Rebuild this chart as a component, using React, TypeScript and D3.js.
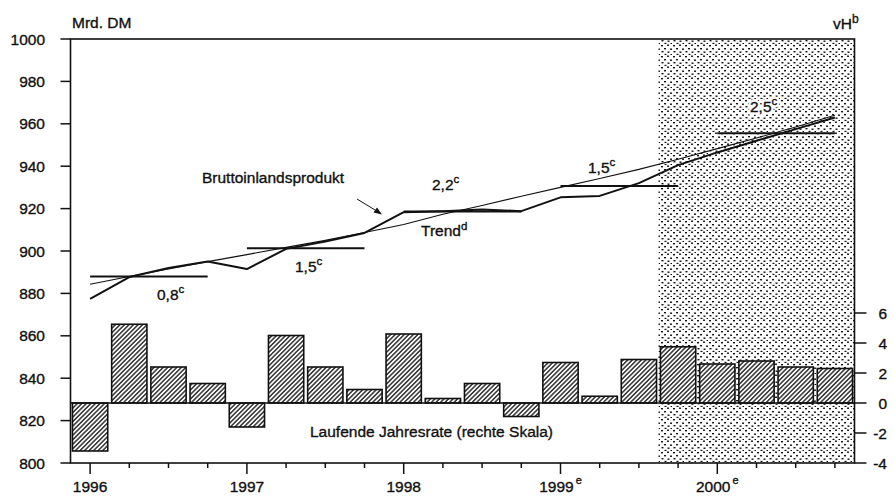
import * as d3 from "d3";
import { useEffect, useRef } from "react";

// quarterly data 1996Q1 .. 2000Q4
const quarters = [
  "1996Q1", "1996Q2", "1996Q3", "1996Q4",
  "1997Q1", "1997Q2", "1997Q3", "1997Q4",
  "1998Q1", "1998Q2", "1998Q3", "1998Q4",
  "1999Q1", "1999Q2", "1999Q3", "1999Q4",
  "2000Q1", "2000Q2", "2000Q3", "2000Q4",
];
const years = ["1996", "1997", "1998", "1999", "2000"];
const yearNotes = ["", "", "", "e", "e"];

// Bruttoinlandsprodukt, Mrd. DM
const bip = [
  877.4, 887.7, 892, 895,
  891.5, 901, 904.5, 908.5,
  918.3, 918.8, 919.6, 918.8,
  925.3, 926, 932, 940.5,
  946.5, 952, 957.5, 963,
];
// Trend
const trend = [
  884.3, 888, 891.5, 895,
  898.3, 901.7, 905, 908.7,
  912.5, 917.3, 921.5, 925.8,
  930, 934.2, 938.5, 943.3,
  948.3, 953.3, 958.5, 964,
];
// Jahresdurchschnitt
const annualAvg = [888, 901.3, 918.6, 930.7, 955.5];
const annualGrowth = ["0,8", "1,5", "2,2", "1,5", "2,5"];
// Laufende Jahresrate, vH
const rates = [
  -3.2, 5.25, 2.4, 1.3,
  -1.6, 4.5, 2.4, 0.9,
  4.6, 0.3, 1.3, -0.9,
  2.7, 0.45, 2.9, 3.75,
  2.6, 2.8, 2.4, 2.3,
];
const leftTicks = [800, 820, 840, 860, 880, 900, 920, 940, 960, 980, 1000];
const rightTicks = [-4, -2, 0, 2, 4, 6];
const forecastFrom = "1999Q4";

const font = "'Liberation Sans', Arial, sans-serif";

const App = () => {
  const ref = useRef<SVGSVGElement>(null);
  const width = 895;
  const height = 496;
  const plot = { left: 70.5, right: 854.5, top: 39, bottom: 463 };

  useEffect(() => {
    const svg = d3.select(ref.current);
    svg.selectAll("*").remove();

    const x = d3
      .scaleBand()
      .domain(quarters)
      .range([plot.left, plot.right])
      .paddingInner(0.1)
      .paddingOuter(0.05);
    const cx = (q: string) => (x(q) as number) + x.bandwidth() / 2;
    const yL = d3.scaleLinear().domain([800, 1000]).range([plot.bottom, plot.top]);
    const yR = d3.scaleLinear().domain([-4, 6]).range([plot.bottom, 313]);

    const defs = svg.append("defs");
    const hatch = defs
      .append("pattern")
      .attr("id", "hatch")
      .attr("patternUnits", "userSpaceOnUse")
      .attr("width", 3.2)
      .attr("height", 8)
      .attr("patternTransform", "rotate(45)");
    hatch.append("rect").attr("width", 3.2).attr("height", 8).attr("fill", "#fff");
    hatch
      .append("line")
      .attr("x1", 0.8).attr("x2", 0.8)
      .attr("y1", 0).attr("y2", 8)
      .attr("stroke", "#111")
      .attr("stroke-width", 1.3);

    const stip = defs
      .append("pattern")
      .attr("id", "stipple")
      .attr("patternUnits", "userSpaceOnUse")
      .attr("width", 12)
      .attr("height", 11);
    const dots = [[1, 1], [7, 0.5], [4, 4], [10, 4.5], [1.5, 7], [7.5, 7.5], [4.5, 9.8], [10.5, 10]];
    dots.forEach(([dx, dy]) =>
      stip.append("rect").attr("x", dx).attr("y", dy).attr("width", 2).attr("height", 1.4).attr("fill", "#111")
    );

    // forecast shading
    const shadeX = (x(forecastFrom) as number) - (x.step() * x.paddingInner()) / 2;
    svg
      .append("rect")
      .attr("x", shadeX)
      .attr("y", plot.top)
      .attr("width", plot.right - shadeX)
      .attr("height", plot.bottom - plot.top)
      .attr("fill", "url(#stipple)");

    // bars
    svg
      .append("g")
      .selectAll("rect")
      .data(rates)
      .join("rect")
      .attr("x", (_d, i) => x(quarters[i]) as number)
      .attr("width", x.bandwidth())
      .attr("y", (d) => Math.min(yR(d), yR(0)))
      .attr("height", (d) => Math.abs(yR(d) - yR(0)))
      .attr("fill", "url(#hatch)")
      .attr("stroke", "#111")
      .attr("stroke-width", 1.6);

    // zero line of right scale
    svg
      .append("line")
      .attr("x1", plot.left).attr("x2", plot.right)
      .attr("y1", yR(0)).attr("y2", yR(0))
      .attr("stroke", "#111")
      .attr("stroke-width", 1.6);

    // annual averages
    annualAvg.forEach((v, k) => {
      svg
        .append("line")
        .attr("x1", cx(quarters[k * 4]))
        .attr("x2", cx(quarters[k * 4 + 3]))
        .attr("y1", yL(v)).attr("y2", yL(v))
        .attr("stroke", "#111")
        .attr("stroke-width", 2);
    });

    const line = d3
      .line<number>()
      .x((_d, i) => cx(quarters[i]))
      .y((d) => yL(d));
    svg
      .append("path")
      .datum(trend)
      .attr("fill", "none")
      .attr("stroke", "#111")
      .attr("stroke-width", 1.1)
      .attr("d", line);
    svg
      .append("path")
      .datum(bip)
      .attr("fill", "none")
      .attr("stroke", "#111")
      .attr("stroke-width", 2)
      .attr("stroke-linejoin", "round")
      .attr("d", line);

    // frame
    svg
      .append("rect")
      .attr("x", plot.left).attr("y", plot.top)
      .attr("width", plot.right - plot.left)
      .attr("height", plot.bottom - plot.top)
      .attr("fill", "none")
      .attr("stroke", "#111")
      .attr("stroke-width", 1.6);

    const txt = (sel: any) =>
      sel
        .attr("font-family", font)
        .attr("font-size", 15.5)
        .attr("fill", "#111")
        .attr("stroke", "#111")
        .attr("stroke-width", 0.35);

    // left axis
    const gl = svg.append("g");
    leftTicks.forEach((t) => {
      gl.append("line")
        .attr("x1", plot.left - 10).attr("x2", plot.left)
        .attr("y1", yL(t)).attr("y2", yL(t))
        .attr("stroke", "#111").attr("stroke-width", 1.5);
      txt(gl.append("text"))
        .attr("x", 45).attr("y", yL(t) + 5.5)
        .attr("text-anchor", "end")
        .text(t);
    });

    // right axis
    const gr = svg.append("g");
    rightTicks.forEach((t) => {
      gr.append("line")
        .attr("x1", plot.right).attr("x2", plot.right + 12)
        .attr("y1", yR(t)).attr("y2", yR(t))
        .attr("stroke", "#111").attr("stroke-width", 1.5);
      txt(gr.append("text"))
        .attr("x", 887).attr("y", yR(t) + 5.5)
        .attr("text-anchor", "end")
        .text(t);
    });

    // bottom axis
    const gb = svg.append("g");
    quarters.forEach((q, i) => {
      const major = i % 4 === 0;
      gb.append("line")
        .attr("x1", cx(q)).attr("x2", cx(q))
        .attr("y1", plot.bottom).attr("y2", plot.bottom + (major ? 11 : 5))
        .attr("stroke", "#111").attr("stroke-width", 1.5);
    });
    years.forEach((yr, k) => {
      const t = txt(gb.append("text"))
        .attr("x", cx(quarters[k * 4]))
        .attr("y", 492)
        .attr("text-anchor", "middle");
      t.append("tspan").text(yr);
      if (yearNotes[k]) {
        t.append("tspan")
          .attr("font-size", 11)
          .attr("dx", 2)
          .attr("dy", -8)
          .text(yearNotes[k]);
      }
    });

    // units
    txt(svg.append("text")).attr("x", 72).attr("y", 28).text("Mrd. DM");
    const vh = txt(svg.append("text")).attr("x", 833).attr("y", 29);
    vh.append("tspan").text("vH");
    vh.append("tspan").attr("font-size", 12).attr("dy", -6).text("b");

    // growth labels (white halo behind, then text)
    const offs = [[157, 24], [295, 24], [432, -22], [588, -13], [750, -21]];
    annualGrowth.forEach((g, k) => {
      ["halo", "text"].forEach((layer) => {
        const t = txt(svg.append("text"))
          .attr("x", offs[k][0])
          .attr("y", yL(annualAvg[k]) + offs[k][1]);
        if (layer === "halo") {
          t.attr("fill", "#fff").attr("stroke", "#fff").attr("stroke-width", 5);
        }
        t.append("tspan").text(g);
        t.append("tspan").attr("font-size", 11.5).attr("dy", -7).text("c");
      });
    });

    // series labels
    txt(svg.append("text")).attr("x", 202).attr("y", 183).text("Bruttoinlandsprodukt");
    const tr = txt(svg.append("text")).attr("x", 421).attr("y", 236);
    tr.append("tspan").text("Trend");
    tr.append("tspan").attr("font-size", 11.5).attr("dy", -6).text("d");
    txt(svg.append("text"))
      .attr("x", 310).attr("y", 437)
      .text("Laufende Jahresrate (rechte Skala)");

    // arrow
    svg
      .append("line")
      .attr("x1", 357).attr("y1", 199)
      .attr("x2", 380).attr("y2", 213)
      .attr("stroke", "#111").attr("stroke-width", 1);
    svg
      .append("path")
      .attr("d", "M382,214.5 L373.5,212.5 L377,207.5 Z")
      .attr("fill", "#111");
  }, []);

  return (
    <svg
      ref={ref}
      width={width}
      height={height}
      style={{ position: "absolute", left: 0, top: 0, background: "#fff" }}
    />
  );
};

export default App;
